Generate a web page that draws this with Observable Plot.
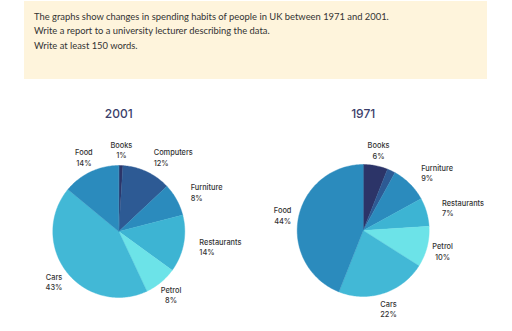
<!DOCTYPE html>
<html>
<head>
<meta charset="utf-8">
<script src="https://cdn.jsdelivr.net/npm/d3@7"></script>
<script src="https://cdn.jsdelivr.net/npm/@observablehq/plot@0.6"></script>
<style>
  html, body { margin: 0; padding: 0; background: #fff; width: 512px; height: 331px; overflow: hidden; }
  .box { position: absolute; left: 24px; top: 1px; width: 463px; height: 78px; background: #fef4dc;
         box-sizing: border-box; padding: 8.6px 0 0 10px; font-family: Lato, sans-serif; font-size: 9.4px;
         line-height: 14.7px; color: #333; }
  .box p { margin: 0; }
  #chart { position: absolute; left: 0; top: 79px; }
</style>
</head>
<body>
<div class="box">
  <p>The graphs show changes in spending habits of people in UK between 1971 and 2001.</p>
  <p>Write a report to a university lecturer describing the data.</p>
  <p>Write at least 150 words.</p>
</div>
<div id="chart"></div>
<script>
// ---- data ----
const categories = ["Books", "Computers", "Furniture", "Restaurants", "Petrol", "Cars", "Food"];
const colors = ["#2c3468", "#2d5a94", "#2b8bbd", "#3db4d3", "#6ce3e8", "#42b8d6", "#2b8bbd"];
const years = ["2001", "1971"];
const values2001 = [1, 12, 8, 14, 8, 43, 14];
const values1971 = [6, 2, 9, 7, 10, 22, 44];
const labels2001 = ["Books", "Computers", "Furniture", "Restaurants", "Petrol", "Cars", "Food"];
const labels1971 = ["Books", "", "Furniture", "Restaurants", "Petrol", "Cars", "Food"];

// ---- layout ----
const W = 512, H = 252;
const R = 66, LR = 82;
const centers = { "2001": [118.3, 152], "1971": [362.7, 151] };
const valuesByYear = { "2001": values2001, "1971": values1971 };
const labelsByYear = { "2001": labels2001, "1971": labels1971 };

const slicePts = [];
const labelRows = [];
const titleRows = [];
for (const yr of years) {
  const [cx, cy] = centers[yr];
  const rows = categories.map((c, i) => ({ category: c, value: valuesByYear[yr][i], label: labelsByYear[yr][i] }));
  const arcs = d3.pie().sort(null).value(d => d.value)(rows);
  titleRows.push({ year: yr, x: cx, y: 35 });
  arcs.forEach((a, i) => {
    const key = yr + "-" + a.data.category;
    slicePts.push({ key, category: a.data.category, x: cx, y: cy });
    const n = Math.max(2, Math.ceil((a.endAngle - a.startAngle) / (Math.PI / 180)));
    for (let k = 0; k <= n; k++) {
      const t = a.startAngle + (a.endAngle - a.startAngle) * k / n;
      slicePts.push({ key, category: a.data.category, x: cx + R * Math.sin(t), y: cy - R * Math.cos(t) });
    }
    if (a.data.label) {
      const m = (a.startAngle + a.endAngle) / 2;
      const deg = m * 180 / Math.PI;
      labelRows.push({
        text: a.data.label + "\n" + a.data.value + "%",
        x: cx + LR * Math.sin(m),
        y: cy - LR * Math.cos(m),
        start: deg > 20 && deg < 102
      });
    }
  });
}

const textStyle = { fontFamily: "Inter, sans-serif", fontSize: 7.4, fontWeight: 500, fill: "#333", lineHeight: 1.42, lineAnchor: "middle" };

const chart = Plot.plot({
  width: W, height: H, margin: 0,
  style: { background: "transparent", overflow: "visible" },
  x: { domain: [0, W], range: [0, W], axis: null },
  y: { domain: [0, H], range: [0, H], axis: null },
  color: { domain: categories, range: colors },
  marks: [
    Plot.line(slicePts, { x: "x", y: "y", z: "key", fill: "category", stroke: "category", strokeWidth: 0.4, curve: "linear-closed" }),
    Plot.text(labelRows.filter(d => !d.start), { x: "x", y: "y", text: "text", textAnchor: "middle", ...textStyle }),
    Plot.text(labelRows.filter(d => d.start), { x: "x", y: "y", text: "text", textAnchor: "start", ...textStyle }),
    Plot.text(titleRows, { x: "x", y: "y", text: "year", fontFamily: "Inter, sans-serif", fontSize: 12, fontWeight: 500, fill: "#3b3e6a" })
  ]
});
document.getElementById("chart").appendChild(chart);
</script>
</body>
</html>
